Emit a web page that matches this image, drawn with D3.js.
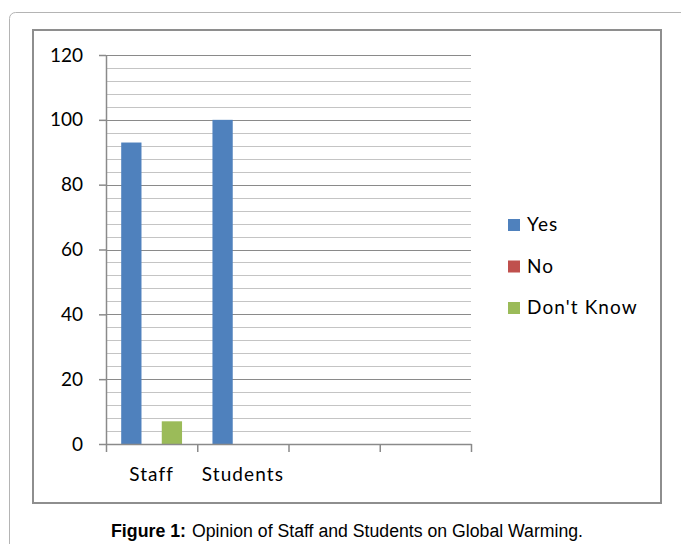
<!DOCTYPE html>
<html>
<head>
<meta charset="utf-8">
<script src="https://cdn.jsdelivr.net/npm/d3@7"></script>
<style>
  body { margin: 0; background: #fff; }
  svg { display: block; }
</style>
</head>
<body>
<script>
// data
const categories = ["Staff", "Students", "", ""];
const series     = ["Yes", "No", "Don't Know"];
const yesValues  = [93, 100, null, null];
const noValues   = [0, 0, null, null];
const dkValues   = [7, 0, null, null];
const yTicks     = [0, 20, 40, 60, 80, 100, 120];
const caption    = ["Figure 1:", "Opinion of Staff and Students on Global Warming."];

const colors = ["#4F81BD", "#C0504D", "#9BBB59"];
const values = [yesValues, noValues, dkValues];

const width = 681, height = 544;
const font = "Lato, 'Open Sans', sans-serif";

const svg = d3.select("body").append("svg")
  .attr("width", width)
  .attr("height", height);

// outer frame and chart box
svg.append("rect")
  .attr("x", 9.5).attr("y", 12.5)
  .attr("width", 720).attr("height", 600)
  .attr("rx", 6)
  .attr("fill", "#fff")
  .attr("stroke", "#b4b4b4");

svg.append("rect")
  .attr("x", 33).attr("y", 30)
  .attr("width", 628).attr("height", 473)
  .attr("fill", "#fff")
  .attr("stroke", "#8e8e8e")
  .attr("stroke-width", 2);

// scales
const x0 = d3.scaleBand()
  .domain(d3.range(categories.length))
  .range([106, 471])
  .padding(0);

const x1 = d3.scaleBand()
  .domain(series)
  .range([0, x0.bandwidth()])
  .paddingInner(0)
  .paddingOuter(0.75);

const y = d3.scaleLinear()
  .domain([0, 120])
  .range([444, 55]);

// gridlines
const minor = d3.range(4, 120, 4).filter(v => v % 20 !== 0);
const major = yTicks.filter(v => v > 0);

svg.append("g")
  .selectAll("line")
  .data(minor)
  .enter()
  .append("line")
  .attr("x1", 106).attr("x2", 471)
  .attr("y1", d => Math.round(y(d)) + 0.5)
  .attr("y2", d => Math.round(y(d)) + 0.5)
  .attr("stroke", "#c4c4c4")
  .attr("stroke-width", 1.2);

svg.append("g")
  .selectAll("line")
  .data(major)
  .enter()
  .append("line")
  .attr("x1", 106).attr("x2", 471)
  .attr("y1", d => Math.round(y(d)) + 0.5)
  .attr("y2", d => Math.round(y(d)) + 0.5)
  .attr("stroke", "#8a8a8a")
  .attr("stroke-width", 1.2);

// bars
const bars = [];
categories.forEach((c, i) => {
  series.forEach((s, j) => {
    const v = values[j][i];
    if (v) bars.push({ cat: i, series: s, value: v, color: colors[j] });
  });
});

svg.append("g")
  .selectAll("rect")
  .data(bars)
  .enter()
  .append("rect")
  .attr("x", d => x0(d.cat) + x1(d.series))
  .attr("y", d => y(d.value))
  .attr("width", x1.bandwidth())
  .attr("height", d => y(0) - y(d.value))
  .attr("fill", d => d.color);

// y axis
const yAxis = svg.append("g")
  .attr("transform", "translate(106,0)")
  .call(d3.axisLeft(y).tickValues(yTicks).tickSize(7).tickPadding(16).tickSizeOuter(0));

yAxis.select(".domain").attr("stroke", "#8a8a8a").attr("stroke-width", 1.5);
yAxis.selectAll(".tick line").attr("stroke", "#8a8a8a").attr("stroke-width", 1.5);
yAxis.selectAll("text")
  .attr("font-family", font)
  .attr("font-size", 19)
  .attr("fill", "#000");

// x axis: ticks at category boundaries
const xb = d3.scaleLinear().domain([0, categories.length]).range([106, 471]);
const xAxis = svg.append("g")
  .attr("transform", "translate(0,444)")
  .call(d3.axisBottom(xb).ticks(categories.length).tickSize(8).tickFormat("").tickSizeOuter(0));

xAxis.select(".domain").attr("stroke", "#8a8a8a").attr("stroke-width", 1.5);
xAxis.selectAll(".tick line").attr("stroke", "#8a8a8a").attr("stroke-width", 1.5);

const xLabels = svg.append("g")
  .attr("transform", "translate(0,444)")
  .call(d3.axisBottom(x0).tickSize(0).tickPadding(24).tickFormat(i => categories[i]));

xLabels.select(".domain").remove();
xLabels.selectAll("text")
  .attr("font-family", font)
  .attr("font-size", 19)
  .attr("letter-spacing", 1.1)
  .attr("fill", "#000");

// legend
const legend = svg.append("g")
  .selectAll("g")
  .data(series)
  .enter()
  .append("g")
  .attr("transform", (d, i) => `translate(508,${219 + i * 41.5})`);

legend.append("rect")
  .attr("width", 12).attr("height", 12)
  .attr("fill", (d, i) => colors[i]);

legend.append("text")
  .attr("x", 19).attr("y", 12)
  .attr("font-family", font)
  .attr("font-size", 19)
  .attr("letter-spacing", 1.1)
  .attr("fill", "#000")
  .text(d => d);

// caption: bold label, then plain text, both a little condensed
svg.append("text")
  .attr("x", 111).attr("y", 537)
  .attr("font-family", "'Liberation Sans', Arial, sans-serif")
  .attr("font-size", 18)
  .attr("font-weight", "bold")
  .attr("textLength", 75)
  .attr("lengthAdjust", "spacingAndGlyphs")
  .attr("fill", "#000")
  .text(caption[0]);

svg.append("text")
  .attr("x", 192).attr("y", 537)
  .attr("font-family", "'Liberation Sans', Arial, sans-serif")
  .attr("font-size", 18)
  .attr("textLength", 391)
  .attr("lengthAdjust", "spacingAndGlyphs")
  .attr("fill", "#000")
  .text(caption[1]);
</script>
</body>
</html>
